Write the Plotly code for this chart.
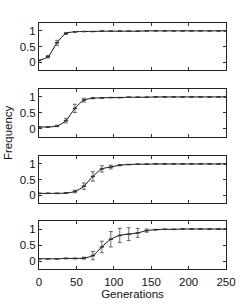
import plotly.graph_objects as go
from plotly.subplots import make_subplots

generations = [0, 12, 24, 36, 48, 60, 72, 84, 96, 108, 120, 132, 144, 156, 168, 180, 192, 204, 216, 228, 240, 250]

freq_1 = [0.06, 0.18, 0.62, 0.92, 0.97, 0.98, 0.98, 0.99, 0.99, 0.99, 0.99, 0.99, 1.0, 1.0, 1.0, 1.0, 1.0, 1.0, 1.0, 1.0, 1.0, 1.0]
err_1 = [0.0, 0.04, 0.08, 0.03, 0.01, 0.0, 0.0, 0.0, 0.0, 0.0, 0.0, 0.0, 0.0, 0.0, 0.0, 0.0, 0.0, 0.0, 0.0, 0.0, 0.0, 0.0]

freq_2 = [0.06, 0.06, 0.09, 0.26, 0.64, 0.9, 0.96, 0.97, 0.98, 0.98, 0.99, 0.99, 0.99, 1.0, 1.0, 1.0, 1.0, 1.0, 1.0, 1.0, 1.0, 1.0]
err_2 = [0.0, 0.0, 0.02, 0.07, 0.13, 0.06, 0.02, 0.0, 0.0, 0.0, 0.0, 0.0, 0.0, 0.0, 0.0, 0.0, 0.0, 0.0, 0.0, 0.0, 0.0, 0.0]

freq_3 = [0.06, 0.06, 0.06, 0.07, 0.12, 0.29, 0.6, 0.84, 0.9, 0.96, 0.98, 0.99, 0.99, 1.0, 1.0, 1.0, 1.0, 1.0, 1.0, 1.0, 1.0, 1.0]
err_3 = [0.0, 0.0, 0.0, 0.01, 0.04, 0.1, 0.15, 0.1, 0.06, 0.02, 0.0, 0.0, 0.0, 0.0, 0.0, 0.0, 0.0, 0.0, 0.0, 0.0, 0.0, 0.0]

freq_4 = [0.07, 0.07, 0.07, 0.08, 0.08, 0.09, 0.17, 0.44, 0.68, 0.8, 0.84, 0.88, 0.95, 0.98, 0.99, 0.99, 1.0, 1.0, 1.0, 1.0, 1.0, 1.0]
err_4 = [0.0, 0.0, 0.01, 0.01, 0.01, 0.03, 0.13, 0.18, 0.24, 0.22, 0.2, 0.14, 0.05, 0.01, 0.0, 0.0, 0.0, 0.0, 0.0, 0.0, 0.0, 0.0]

x_ticks = [0, 50, 100, 150, 200, 250]
y_ticks = [0, 0.5, 1]
y_tick_labels = ["0", "0.5", "1"]
x_title = "Generations"
y_title = "Frequency"

series = [(freq_1, err_1), (freq_2, err_2), (freq_3, err_3), (freq_4, err_4)]

fig = make_subplots(rows=4, cols=1, shared_xaxes=False)
domains = [[0.808, 1.0], [0.537, 0.732], [0.268, 0.459], [0.0, 0.195]]

font = dict(family="Liberation Sans, Arial, sans-serif", size=11.5, color="#111")

for i, (f, e) in enumerate(series):
    r = i + 1
    fig.add_trace(go.Scatter(
        x=generations, y=f, mode="lines", line=dict(color="#111", width=1, shape="spline", smoothing=0.8),
        hoverinfo="skip", showlegend=False), row=r, col=1)
    fig.add_trace(go.Scatter(
        x=generations, y=f, mode="markers",
        marker=dict(symbol="line-ew", size=3, color="#333", line=dict(width=1.5, color="#333")),
        error_y=dict(type="data", array=e, visible=True, color="#444", thickness=0.8, width=2),
        showlegend=False), row=r, col=1)
    fig.update_yaxes(row=r, col=1, domain=domains[i], range=[-0.25, 1.25],
                     tickvals=y_ticks, ticktext=y_tick_labels, ticks="inside", ticklen=3,
                     tickcolor="#333", showline=True, linecolor="#222", linewidth=1, mirror="ticks",
                     showgrid=False, zeroline=False, tickfont=font)
    fig.update_xaxes(row=r, col=1, range=[0, 250], tickvals=x_ticks,
                     ticks="inside", ticklen=3, tickcolor="#333", showline=True, linecolor="#222",
                     linewidth=1, mirror="ticks", showgrid=False, zeroline=False,
                     showticklabels=(r == 4), tickfont=font)

fig.update_xaxes(row=4, col=1, ticklabelstandoff=2, title=dict(text=x_title, font=font, standoff=0))

fig.add_annotation(text=y_title, xref="paper", yref="paper", x=-0.163, y=0.555,
                   textangle=-90, showarrow=False, font=font, xanchor="center", yanchor="middle")

fig.update_layout(width=249, height=308, margin=dict(l=39, r=23, t=23, b=35),
                  plot_bgcolor="white", paper_bgcolor="white", font=font, hovermode=False)

fig.write_html("out.html", config=dict(displayModeBar=False, staticPlot=True),
               post_script="document.body.style.margin='0';document.body.style.overflow='hidden';")
